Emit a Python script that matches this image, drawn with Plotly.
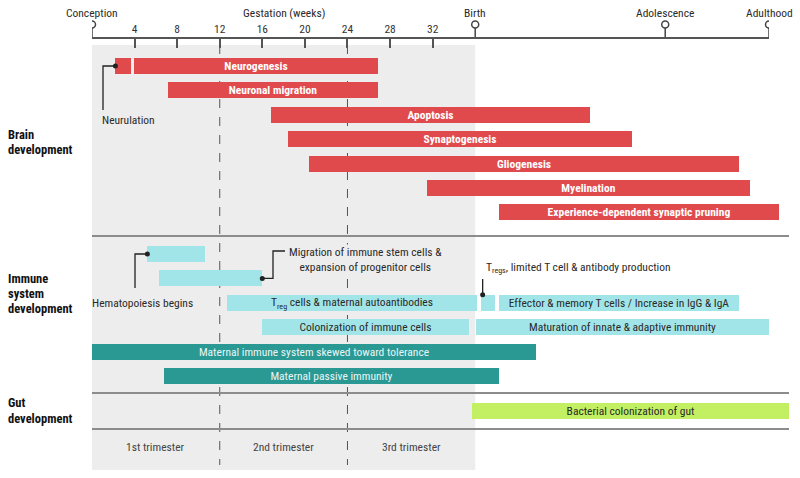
import plotly.graph_objects as go

# ---------------- data ----------------
milestones = ["Conception", "Birth", "Adolescence", "Adulthood"]
milestone_pos = [0, 36, 53.85, 63.6]
week_ticks = [4, 8, 12, 16, 20, 24, 28, 32]
trimesters = ["1st trimester", "2nd trimester", "3rd trimester"]
trimester_bounds = [0, 12, 24, 36]

brain_labels = ["", "Neurogenesis", "Neuronal migration", "Apoptosis", "Synaptogenesis",
                "Gliogenesis", "Myelination", "Experience-dependent synaptic pruning"]
brain_start = [2.2, 3.95, 7.1, 16.8, 18.4, 20.4, 31.5, 38.2]
brain_end = [3.7, 26.9, 26.9, 46.8, 50.7, 60.8, 61.8, 64.5]
brain_lane = [0, 0, 1, 2, 3, 4, 5, 6]

immune_labels = ["", "", "T<sub>reg</sub> cells & maternal autoantibodies", "",
                 "Effector & memory T cells / Increase in IgG & IgA",
                 "Colonization of immune cells", "Maturation of innate & adaptive immunity"]
immune_start = [5.2, 6.3, 12.7, 36.5, 38.2, 16.0, 36.1]
immune_end = [10.6, 16.0, 36.2, 37.9, 60.8, 35.4, 63.6]
immune_lane = [0, 1, 2, 2, 2, 3, 3]

maternal_labels = ["Maternal immune system skewed toward tolerance", "Maternal passive immunity"]
maternal_start = [0, 6.8]
maternal_end = [41.7, 38.2]
maternal_lane = [4, 5]

gut_labels = ["Bacterial colonization of gut"]
gut_start = [35.7]
gut_end = [65.5]
gut_lane = [0]

# ---------------- layout helpers ----------------
FONT = "Liberation Sans Narrow, Roboto Condensed, Arial Narrow, Roboto, sans-serif"
W, H = 800, 478
PX_PER_UNIT = (769 - 92) / milestone_pos[-1]
X0 = -92 / PX_PER_UNIT
X1 = X0 + W / PX_PER_UNIT
ROW_PX = 24.4
Y0 = -66 / ROW_PX
Y1 = Y0 + H / ROW_PX


def py(px):
    return (px - 66) / ROW_PX


def pxx(px):
    return (px - 92) / PX_PER_UNIT


BRAIN_OFF, IMMUNE_OFF, GUT_OFF = 0.0, py(254), py(411)
BAR_W = 16 / ROW_PX

RED, CYAN, TEAL, LIME = "#E04A4C", "#A2E5E8", "#2A9893", "#C2F062"
BG = "#EDEDED"
LINE = "#8C8C8C"
FS = 11.5

fig = go.Figure()


def add_bars(labels, start, end, lanes, off, color, tcolor, weight="normal", size=FS):
    fig.add_trace(go.Bar(
        orientation="h",
        base=start,
        x=[e - s for s, e in zip(start, end)],
        y=[off + l for l in lanes],
        width=BAR_W,
        marker=dict(color=color, line=dict(width=0)),
        text=[t if t else None for t in labels],
        textposition="inside",
        insidetextanchor="middle",
        textangle=0,
        textfont=dict(family=FONT, color=tcolor, size=size, weight=weight),
        hoverinfo="skip",
        showlegend=False,
    ))


add_bars(brain_labels, brain_start, brain_end, brain_lane, BRAIN_OFF, RED, "white", "bold")
add_bars(immune_labels, immune_start, immune_end, immune_lane, IMMUNE_OFF, CYAN, "#2a2a2a")
add_bars(maternal_labels, maternal_start, maternal_end, maternal_lane, IMMUNE_OFF, TEAL, "#E8F6F5")
add_bars(gut_labels, gut_start, gut_end, gut_lane, GUT_OFF, LIME, "#2a2a2a")

# ---------------- leader lines ----------------
DARK = "#222222"
leaders_x, leaders_y, dots_x, dots_y = [], [], [], []
# Neurulation
d = (brain_start[0], BRAIN_OFF + brain_lane[0])
leaders_x += [d[0], pxx(103), pxx(103), None]
leaders_y += [d[1], d[1], py(110), None]
dots_x.append(d[0]); dots_y.append(d[1])
# Hematopoiesis begins
d = (immune_start[0], IMMUNE_OFF + immune_lane[0])
leaders_x += [d[0], pxx(135), pxx(135), None]
leaders_y += [d[1], d[1], py(288), None]
dots_x.append(d[0]); dots_y.append(d[1])
# Migration
d = (immune_end[1], IMMUNE_OFF + immune_lane[1])
leaders_x += [d[0], pxx(273), pxx(273), pxx(285), None]
leaders_y += [d[1], d[1], py(251), py(251), None]
dots_x.append(d[0]); dots_y.append(d[1])
# Tregs
tx = (immune_start[3] + immune_end[3]) / 2 - 0.5
ty = IMMUNE_OFF + immune_lane[3] - BAR_W / 2
leaders_x += [tx, tx, None]
leaders_y += [py(279), ty, None]
dots_x.append(tx); dots_y.append(ty)

fig.add_trace(go.Scatter(x=leaders_x, y=leaders_y, mode="lines",
                         line=dict(color=DARK, width=1.3), hoverinfo="skip", showlegend=False))
fig.add_trace(go.Scatter(x=dots_x, y=dots_y, mode="markers",
                         marker=dict(color=DARK, size=5), hoverinfo="skip", showlegend=False))

# ---------------- milestone markers on top axis ----------------
stem_x, stem_y = [], []
for m in milestone_pos:
    stem_x += [m, m, None]
    stem_y += [py(28), py(38), None]
fig.add_trace(go.Scatter(x=stem_x, y=stem_y, xaxis="x2", mode="lines",
                         line=dict(color="#444", width=1.5), hoverinfo="skip", showlegend=False))
fig.add_trace(go.Scatter(x=milestone_pos, y=[py(24.5)] * len(milestone_pos), xaxis="x2",
                         mode="markers",
                         marker=dict(symbol="circle", size=7, color="white",
                                     line=dict(color="#444", width=1.5)),
                         hoverinfo="skip", showlegend=False))

# ---------------- shapes ----------------
shapes = [
    dict(type="rect", xref="x", yref="y", x0=trimester_bounds[0], x1=trimester_bounds[-1],
         y0=py(45), y1=py(470), fillcolor=BG, line=dict(width=0), layer="below"),
]
for b in trimester_bounds[1:-1]:
    shapes.append(dict(type="line", xref="x", yref="y", x0=b, x1=b, y0=py(45), y1=py(465),
                       line=dict(color="#555", width=1, dash="dash"), layer="below"))
for ypx in [236, 393, 429]:
    shapes.append(dict(type="line", xref="x", yref="y", x0=0, x1=pxx(789), y0=py(ypx), y1=py(ypx),
                       line=dict(color=LINE, width=2), layer="below"))

# ---------------- annotations ----------------
ann = []
TXT = "#2a2a2a"
for name, pos in zip(milestones, milestone_pos):
    ann.append(dict(x=pos, y=py(13), xref="x", yref="y", text=name, showarrow=False,
                    font=dict(family=FONT, size=FS, color=TXT)))
ann.append(dict(x=(trimester_bounds[0] + trimester_bounds[-1]) / 2, y=py(13), xref="x", yref="y",
                text="Gestation (weeks)", showarrow=False, font=dict(family=FONT, size=FS, color=TXT)))
for name, a, b in zip(trimesters, trimester_bounds[:-1], trimester_bounds[1:]):
    ann.append(dict(x=(a + b) / 2, y=py(447), xref="x", yref="y", text=name, showarrow=False,
                    font=dict(family=FONT, size=FS, color="#444")))

section_lines = [("Brain", 134), ("development", 149),
                 ("Immune", 278), ("system", 293), ("development", 308),
                 ("Gut", 402), ("development", 418)]
for t, ypx in section_lines:
    ann.append(dict(x=6 / W, y=py(ypx), xref="paper", yref="y", text=t, showarrow=False,
                    xanchor="left", font=dict(family=FONT, size=12.5, color="#111", weight="bold")))

ann.append(dict(x=pxx(100), y=py(120), xref="x", yref="y", text="Neurulation", showarrow=False,
                xanchor="left", font=dict(family=FONT, size=FS, color=TXT)))
ann.append(dict(x=pxx(142), y=py(303), xref="x", yref="y", text="Hematopoiesis begins", showarrow=False,
                font=dict(family=FONT, size=FS, color=TXT)))
ann.append(dict(x=pxx(288), y=py(259), xref="x", yref="y",
                text="Migration of immune stem cells &<br>expansion of progenitor cells",
                showarrow=False, xanchor="left", align="center", bgcolor=BG, borderpad=0,
                font=dict(family=FONT, size=FS, color=TXT)))
ann.append(dict(x=pxx(484), y=py(267), xref="x", yref="y",
                text="T<sub>regs</sub>, limited T cell & antibody production", showarrow=False,
                xanchor="left", font=dict(family=FONT, size=FS, color=TXT)))

fig.update_layout(
    width=W, height=H,
    margin=dict(l=0, r=0, t=0, b=0),
    paper_bgcolor="white", plot_bgcolor="rgba(0,0,0,0)",
    barmode="overlay",
    bargap=0,
    uniformtext=dict(minsize=FS, mode="show"),
    xaxis=dict(range=[X0, X1], visible=False, fixedrange=True),
    xaxis2=dict(domain=[92 / W, 769 / W], range=[0, milestone_pos[-1]], anchor="free",
                position=1 - 38 / H, side="top", showline=True, linecolor="#555", linewidth=1.5,
                ticks="inside", ticklen=9, tickwidth=1.5, tickcolor="#555",
                tickvals=week_ticks, ticktext=[str(w) for w in week_ticks],
                tickfont=dict(family=FONT, size=FS, color="#333"),
                showgrid=False, zeroline=False, fixedrange=True),
    yaxis=dict(range=[Y1, Y0], visible=False, fixedrange=True),
    shapes=shapes,
    annotations=ann,
    font=dict(family=FONT),
)

fig.write_html("out.html", config={"displayModeBar": False},
               post_script="document.body.style.margin='0';")
